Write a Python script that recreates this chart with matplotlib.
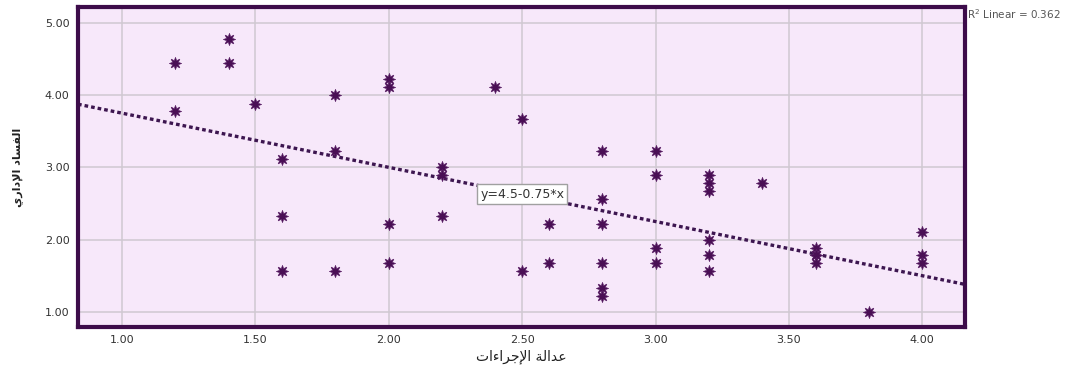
import matplotlib.pyplot as plt
import numpy as np

# Data
x_vals = [1.2, 1.2, 1.4, 1.4, 1.5,
          1.6, 1.6, 1.6, 1.8, 1.8, 1.8,
          2.0, 2.0, 2.0, 2.0, 2.2, 2.2, 2.2, 2.4,
          2.5, 2.5, 2.6, 2.6, 2.6,
          2.8, 2.8, 2.8, 2.8, 2.8, 2.8,
          3.0, 3.0, 3.0, 3.0,
          3.2, 3.2, 3.2, 3.2, 3.2, 3.2, 3.4,
          3.6, 3.6, 3.6, 3.6, 3.8, 4.0, 4.0, 4.0]
y_vals = [4.45, 3.78, 4.78, 4.45, 3.88,
          3.11, 2.33, 1.56, 4.00, 3.22, 1.56,
          4.22, 4.11, 2.22, 1.67, 3.00, 2.89, 2.33, 4.11,
          3.67, 1.56, 2.60, 2.22, 1.67,
          3.22, 2.56, 2.22, 1.67, 1.33, 1.22,
          3.22, 2.89, 1.89, 1.67,
          2.89, 2.78, 2.67, 2.00, 1.78, 1.56, 2.78,
          1.89, 1.78, 1.78, 1.67, 1.00, 2.11, 1.78, 1.67]

fit_intercept = 4.5
fit_slope = -0.75
r2_text = "R$^2$ Linear = 0.362"
fit_label = "y=4.5-0.75*x"

x_ticks = [1.0, 1.5, 2.0, 2.5, 3.0, 3.5, 4.0]
y_ticks = [1.0, 2.0, 3.0, 4.0, 5.0]
x_lim = (0.835, 4.16)
y_lim = (0.79, 5.22)


def visual_arabic(codes):
    # presentation forms in logical order -> reversed for left-to-right drawing
    return "".join(chr(c) for c in codes)[::-1]


# عدالة الإجراءات
x_label = visual_arabic([0xFECB, 0xFEAA, 0xFE8D, 0xFEDF, 0xFE94, 0x20,
                         0xFE8D, 0xFEF9, 0xFE9F, 0xFEAE, 0xFE8D, 0xFE80,
                         0xFE8D, 0xFE95])
# الفساد الإداري
y_label = visual_arabic([0xFE8D, 0xFEDF, 0xFED4, 0xFEB4, 0xFE8E, 0xFEA9, 0x20,
                         0xFE8D, 0xFEF9, 0xFEA9, 0xFE8D, 0xFEAD, 0xFEF1])

purple = "#3d0c4a"
fig = plt.figure(figsize=(10.79, 3.67), dpi=100)
ax = fig.add_axes([0.0723, 0.109, 0.822, 0.872])
ax.set_facecolor("#f7e8fa")

ax.set_xlim(*x_lim)
ax.set_ylim(*y_lim)
ax.set_xticks(x_ticks)
ax.set_yticks(y_ticks)
ax.set_xticklabels([f"{t:.2f}" for t in x_ticks])
ax.set_yticklabels([f"{t:.2f}" for t in y_ticks])
ax.tick_params(length=0, labelsize=8, labelcolor="#333333", pad=6)
ax.grid(True, color="#cfc8d1", linewidth=1.1)
ax.set_axisbelow(True)

for s in ax.spines.values():
    s.set_color(purple)
    s.set_linewidth(3)

# fitted line across the axis range
line_x = np.array(x_lim)
ax.plot(line_x, fit_intercept + fit_slope * line_x, color="#3d1650",
        linewidth=2.4, dashes=(1.1, 0.9), zorder=2)

ax.plot(x_vals, y_vals, linestyle="none", marker=(8, 1, 0), markersize=9,
        color="#4a0f55", markeredgecolor="#5a2066", markeredgewidth=0.4,
        zorder=3)

ax.text(2.5, 2.63, fit_label, ha="center", va="center", fontsize=9,
        color="#333333", zorder=5,
        bbox=dict(boxstyle="square,pad=0.25", facecolor="white",
                  edgecolor="#a0a0a0", linewidth=1))

ax.set_xlabel(x_label, fontsize=10, color="#222222", labelpad=3)
ax.set_ylabel(y_label, fontsize=8, fontweight="bold", color="#222222",
              labelpad=16)

fig.text(0.896, 0.962, r2_text, fontsize=7.5, color="#555555", ha="left",
         va="center")

fig.savefig("out.png", dpi=100)
